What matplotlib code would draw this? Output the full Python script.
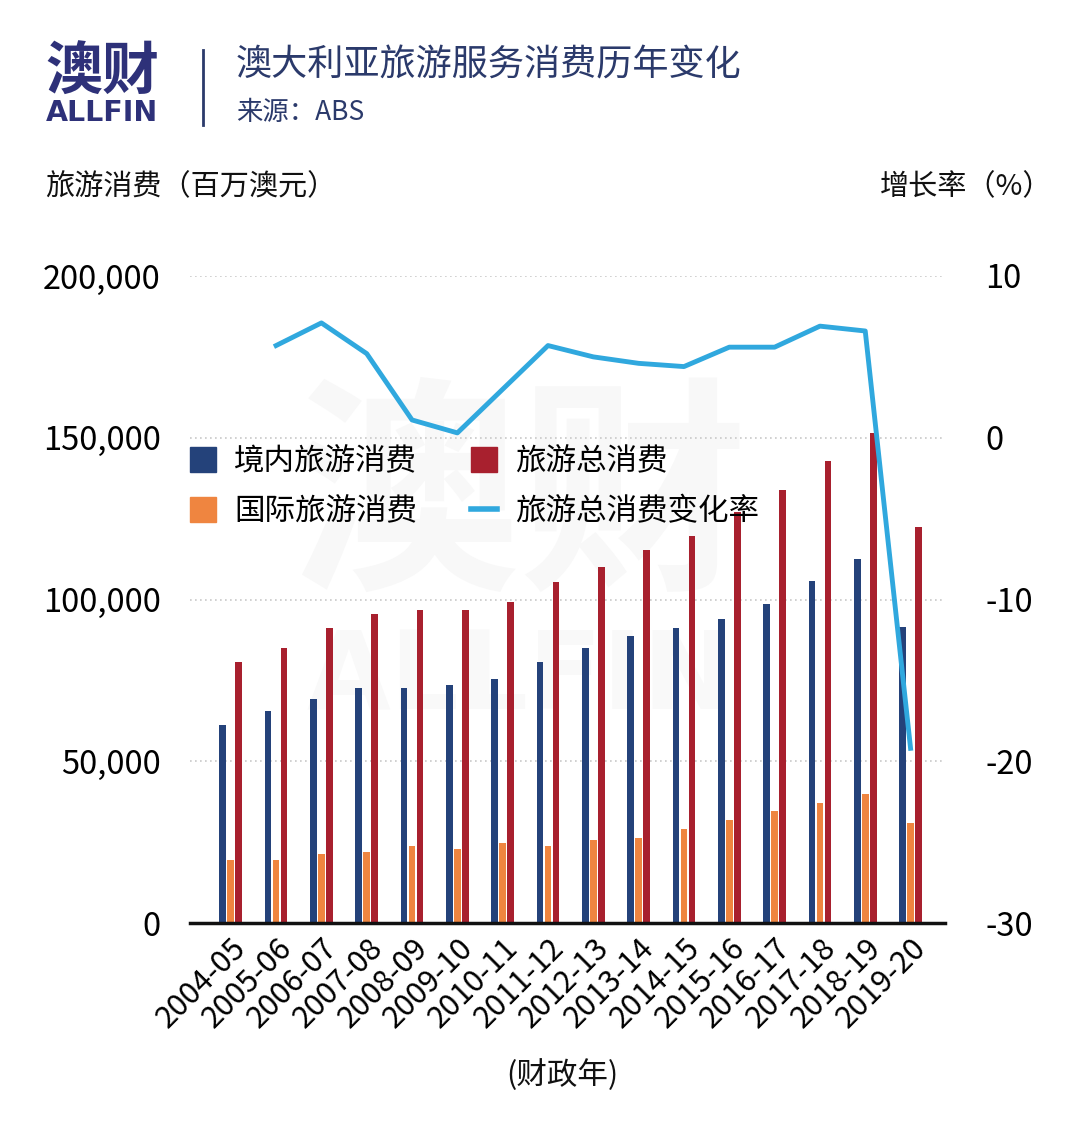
import numpy as np
import matplotlib
matplotlib.use("Agg")
import matplotlib.pyplot as plt
from matplotlib.patches import Patch
from matplotlib.lines import Line2D

plt.rcParams['font.family'] = ['Noto Sans CJK SC', 'DejaVu Sans']
plt.rcParams['axes.unicode_minus'] = False

annees = ['2004-05', '2005-06', '2006-07', '2007-08', '2008-09', '2009-10',
          '2010-11', '2011-12', '2012-13', '2013-14', '2014-15', '2015-16',
          '2016-17', '2017-18', '2018-19', '2019-20']
interieur = [61200, 65500, 69200, 72600, 72600, 73600, 75300, 80600,
             85100, 88700, 91300, 94000, 98500, 105600, 112500, 91500]
international = [19500, 19500, 21200, 22000, 23800, 23000, 24600, 23800,
                 25700, 26300, 29200, 31900, 34600, 37200, 39900, 31000]
total = [80600, 85000, 91200, 95600, 96600, 96600, 99300, 105400,
         110100, 115300, 119600, 126900, 134000, 142800, 151500, 122300]
taux = [np.nan, 5.7, 7.1, 5.2, 1.1, 0.3, 3.0, 5.7,
        5.0, 4.6, 4.4, 5.6, 5.6, 6.9, 6.6, -19.2]

bleu = '#24427a'
rouge = '#a8202e'
orange = '#ef8540'
cyan = '#30a8de'
marine = '#2b3a6b'

W, H = 1080, 1139
fig = plt.figure(figsize=(W / 100, H / 100), dpi=100)
fig.patch.set_facecolor('white')

# filigrane
fig.text(520 / W, 1 - 505 / H, '澳财', fontsize=165, fontweight='bold', color='#f8f8f8',
         ha='center', va='center', zorder=-1)
fig.text(520 / W, 1 - 680 / H, 'ALLFIN', fontsize=78, fontweight='bold', color='#f9f9f9',
         ha='center', va='center', zorder=-1, family='DejaVu Sans')

ax = fig.add_axes([190 / W, 1 - 923 / H, 755 / W, 647 / H])
ax.set_facecolor('none')
x = np.arange(len(annees))
larg = 0.148
ecart = 0.177
ax.bar(x - ecart, interieur, larg, color=bleu, zorder=2)
ax.bar(x, international, larg, color=orange, zorder=2)
ax.bar(x + ecart, total, larg, color=rouge, zorder=2)

ax.set_xlim(-0.9, 15.76)
ax.set_ylim(0, 200000)
ax.set_yticks([0, 50000, 100000, 150000, 200000])
ax.set_yticklabels(['0', '50,000', '100,000', '150,000', '200,000'], fontsize=23.5)
for v in [50000, 100000, 150000, 200000]:
    ax.axhline(v, color='#c8c8c8', lw=1.2, ls=(0, (1, 2)), zorder=1)
for s in ['top', 'left', 'right']:
    ax.spines[s].set_visible(False)
ax.spines['bottom'].set_linewidth(2.5)
ax.spines['bottom'].set_color('#111111')
ax.tick_params(axis='y', length=0, pad=21)
ax.tick_params(axis='x', length=0, pad=7)
ax.set_xticks(x)
ax.set_xticklabels(annees, rotation=45, ha='right', va='top', rotation_mode='anchor', fontsize=22)

ax2 = ax.twinx()
ax2.set_ylim(-30, 10)
ax2.plot(x, taux, color=cyan, lw=3.5, zorder=3)
ax2.set_yticks([-30, -20, -10, 0, 10])
ax2.set_yticklabels(['-30', '-20', '-10', '0', '10'], fontsize=23.5)
ax2.tick_params(axis='y', length=0, pad=29)
for s in ax2.spines.values():
    s.set_visible(False)

poignees = [Patch(color=bleu), Patch(color=orange), Patch(color=rouge),
            Line2D([0], [0], color=cyan, lw=4)]
etiquettes = ['境内旅游消费', '国际旅游消费', '旅游总消费', '旅游总消费变化率']
leg = ax2.legend(poignees, etiquettes, ncol=2, frameon=False, fontsize=22,
                 loc='upper left', bbox_to_anchor=(190 / W, 1 - 446 / H),
                 bbox_transform=fig.transFigure, borderpad=0, borderaxespad=0,
                 handlelength=0.85, handleheight=0.85, handletextpad=0.6,
                 columnspacing=1.75, labelspacing=0.62)

# titre et logo
fig.text(45 / W, 1 - 73 / H, '澳财', fontsize=41, fontweight='bold', color='#2e3179',
         ha='left', va='center')
fig.text(46 / W, 1 - 113 / H, 'ALLFIN', fontsize=20.5, fontweight='bold', color='#2e3179',
         ha='left', va='center', family='DejaVu Sans')
fig.add_artist(Line2D([203 / W, 203 / W], [1 - 50 / H, 1 - 125 / H], color=marine, lw=2))
fig.text(236 / W, 1 - 66 / H, '澳大利亚旅游服务消费历年变化', fontsize=26, color=marine,
         ha='left', va='center')
fig.text(236 / W, 1 - 113 / H, '来源：ABS', fontsize=19, color=marine,
         ha='left', va='center')

fig.text(45 / W, 1 - 187 / H, '旅游消费（百万澳元）', fontsize=21, color='#111111',
         ha='left', va='center')
fig.text(1052 / W, 1 - 187 / H, '增长率（%）', fontsize=21, color='#111111',
         ha='right', va='center')
fig.text(562 / W, 1 - 1075 / H, '(财政年)', fontsize=22, color='#111111',
         ha='center', va='center')

fig.savefig('out.png', dpi=100, facecolor='white')
